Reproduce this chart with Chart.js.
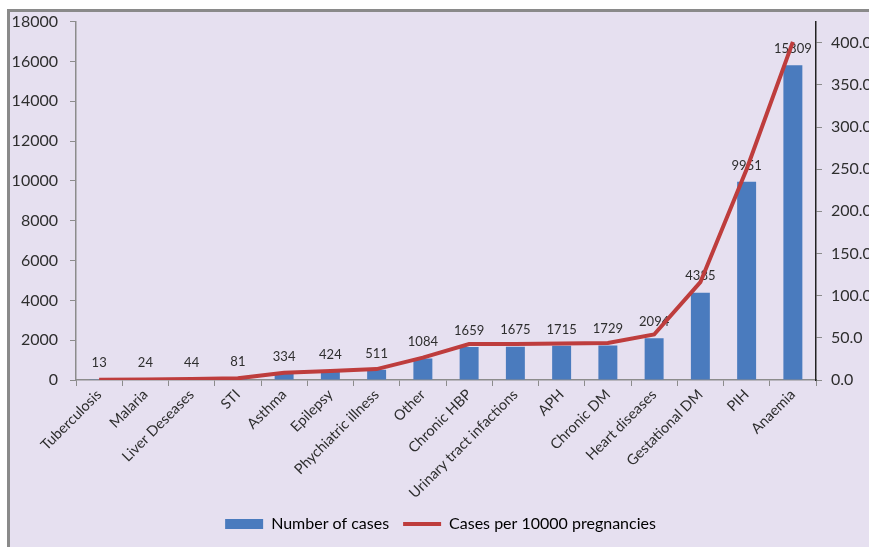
<!DOCTYPE html>
<html lang="en">
<head>
  <meta charset="UTF-8">
  <title>Cases in pregnancy</title>
  <script src="https://cdn.jsdelivr.net/npm/chart.js"></script>
  <style>
    html, body {
      margin: 0;
      padding: 0;
      background: #ffffff;
      overflow: hidden;
    }

    .frame {
      position: absolute;
      left: 7px;
      top: 9px;
      width: 900px;
      height: 600px;
      background: #e6e0f0;
      border-top: 3px solid #8a8a8a;
      border-left: 3px solid #8a8a8a;
    }

    .chart-box {
      position: absolute;
      left: 0;
      top: 0;
      width: 869px;
      height: 547px;
    }
  </style>
</head>
<body>
  <div class="frame"></div>
  <div class="chart-box">
    <canvas id="casesChart" width="869" height="547"></canvas>
  </div>

  <script>
    const categories = ['Tuberculosis', 'Malaria', 'Liver Deseases', 'STI', 'Asthma', 'Epilepsy',
      'Phychiatric illness', 'Other', 'Chronic HBP', 'Urinary tract infactions', 'APH',
      'Chronic DM', 'Heart diseases', 'Gestational DM', 'PIH', 'Anaemia'];
    const numberOfCases = [13, 24, 44, 81, 334, 424, 511, 1084, 1659, 1675, 1715, 1729, 2094, 4385, 9951, 15809];
    const casesPer10000 = [0.3, 0.6, 1.1, 2.0, 8.5, 10.7, 12.9, 26.5, 42.6, 42.8, 43.4, 44.0, 54.0, 116.0, 250.0, 401.0];
    const leftTicks = [0, 2000, 4000, 6000, 8000, 10000, 12000, 14000, 16000, 18000];
    const rightTicks = [0, 50, 100, 150, 200, 250, 300, 350, 400];

    const FONT = 'Lato';
    const TEXT = '#2e2e2e';

    // value labels above the bars
    const barLabels = {
      id: 'barLabels',
      afterDatasetDraw(chart, args) {
        if (args.index !== 0) return;
        const ctx = chart.ctx;
        ctx.save();
        ctx.font = '13px ' + FONT;
        ctx.fillStyle = TEXT;
        ctx.textAlign = 'center';
        ctx.textBaseline = 'bottom';
        args.meta.data.forEach((bar, i) => {
          ctx.fillText(String(numberOfCases[i]), bar.x, bar.y - 10);
        });
        ctx.restore();
      }
    };

    const ctx = document.getElementById('casesChart').getContext('2d');
    const casesChart = new Chart(ctx, {
      type: 'bar',
      data: {
        labels: categories,
        datasets: [{
          type: 'bar',
          label: 'Number of cases',
          data: numberOfCases,
          backgroundColor: '#4a7bbe',
          barPercentage: 0.41,
          categoryPercentage: 1.0,
          yAxisID: 'y',
          order: 1
        }, {
          type: 'line',
          label: 'Cases per 10000 pregnancies',
          data: casesPer10000,
          borderColor: '#be3d3d',
          backgroundColor: '#be3d3d',
          borderWidth: 4,
          pointRadius: 0,
          tension: 0,
          yAxisID: 'y1',
          order: 0
        }]
      },
      plugins: [barLabels],
      options: {
        responsive: false,
        animation: false,
        layout: {
          padding: { left: 12, top: 21, right: 0, bottom: 5 }
        },
        plugins: {
          tooltip: { enabled: false },
          legend: {
            display: true,
            position: 'bottom',
            labels: {
              usePointStyle: true,
              pointStyleWidth: 38,
              boxHeight: 10,
              padding: 14,
              color: TEXT,
              font: { family: FONT, size: 16 },
              generateLabels(chart) {
                return [{
                  text: 'Number of cases',
                  fillStyle: '#4a7bbe',
                  strokeStyle: '#4a7bbe',
                  lineWidth: 0,
                  pointStyle: 'rect',
                  datasetIndex: 0
                }, {
                  text: 'Cases per 10000 pregnancies',
                  fillStyle: '#be3d3d',
                  strokeStyle: '#be3d3d',
                  lineWidth: 4,
                  pointStyle: 'line',
                  datasetIndex: 1
                }];
              }
            }
          }
        },
        scales: {
          x: {
            grid: {
              offset: true,
              drawOnChartArea: false,
              drawTicks: true,
              tickLength: 6,
              color: '#8c8c8c'
            },
            border: { color: '#8c8c8c', width: 1.5 },
            ticks: {
              autoSkip: false,
              maxRotation: 45,
              minRotation: 45,
              padding: 0,
              color: TEXT,
              font: { family: FONT, size: 14.5 }
            },
            afterFit(scale) { scale.height = 122; }
          },
          y: {
            position: 'left',
            min: 0,
            max: 18000,
            afterBuildTicks(scale) { scale.ticks = leftTicks.map(v => ({ value: v })); },
            grid: {
              drawOnChartArea: false,
              drawTicks: true,
              tickLength: 6,
              color: '#8c8c8c'
            },
            border: { color: '#8c8c8c', width: 1.5 },
            ticks: {
              padding: 12,
              color: TEXT,
              font: { family: FONT, size: 16 },
              callback: v => String(v)
            },
            afterFit(scale) { scale.width = 64; }
          },
          y1: {
            position: 'right',
            min: 0,
            max: 425,
            afterBuildTicks(scale) { scale.ticks = rightTicks.map(v => ({ value: v })); },
            grid: {
              drawOnChartArea: false,
              drawTicks: true,
              tickLength: 6,
              color: '#8c8c8c'
            },
            border: { color: '#222222', width: 1.5 },
            ticks: {
              padding: 9,
              color: TEXT,
              font: { family: FONT, size: 16 },
              callback: v => Number(v).toFixed(1)
            },
            afterFit(scale) { scale.width = 53; }
          }
        }
      }
    });
  </script>
</body>
</html>
